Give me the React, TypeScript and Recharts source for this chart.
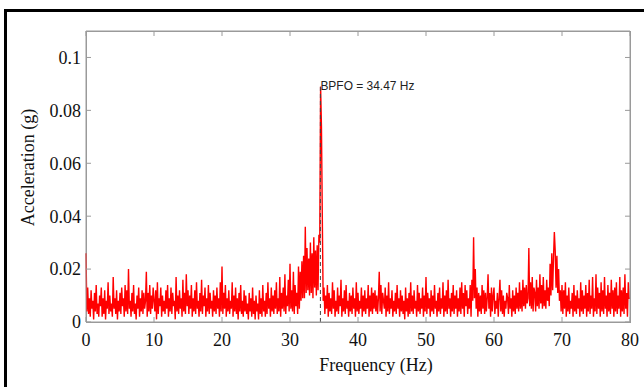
import { LineChart, Line, XAxis, YAxis, ReferenceLine } from 'recharts';

// spectrum samples every 0.125 Hz, values in mg (0.001 g), one row = 1 Hz
const step = 0.125;

const accel0to10 = [
  26, 4, 13, 3, 9, 2, 12, 5,
  8, 1, 11, 4, 14, 3, 7, 2,
  10, 6, 13, 2, 9, 3, 12, 1,
  8, 5, 15, 3, 10, 4, 7, 2,
  17, 5, 9, 3, 12, 1, 8, 4,
  11, 3, 13, 6, 9, 2, 14, 4,
  12, 3, 20, 5, 8, 2, 11, 4,
  14, 3, 7, 1, 10, 5, 13, 2,
  9, 4, 12, 3, 11, 5, 8, 19,
  2, 11, 4, 14, 3, 10, 5, 13,
];

const accel10to20 = [
  8, 4, 12, 1, 15, 3, 9, 6,
  13, 2, 10, 4, 8, 3, 12, 5,
  14, 2, 9, 4, 13, 3, 11, 6,
  8, 1, 17, 4, 10, 3, 12, 5,
  9, 2, 16, 4, 11, 3, 18, 6,
  12, 3, 10, 5, 14, 2, 9, 4,
  12, 3, 15, 5, 8, 2, 11, 4,
  16, 3, 10, 6, 13, 2, 9, 4,
  14, 3, 11, 5, 8, 2, 12, 4,
  10, 3, 13, 5, 9, 2, 15, 4,
];

const accel20to30 = [
  21, 3, 11, 5, 14, 2, 9, 4,
  12, 3, 8, 5, 15, 2, 10, 4,
  13, 3, 9, 1, 11, 4, 14, 3,
  8, 2, 12, 4, 10, 3, 7, 1,
  11, 4, 9, 2, 13, 3, 8, 1,
  10, 4, 7, 1, 12, 3, 9, 2,
  14, 4, 8, 2, 11, 3, 15, 5,
  9, 2, 13, 4, 10, 3, 12, 5,
  15, 3, 9, 4, 17, 2, 11, 5,
  13, 4, 18, 3, 10, 6, 16, 4,
];

const accel30to40 = [
  22, 5, 12, 4, 19, 3, 14, 6,
  11, 3, 21, 5, 19, 8, 23, 9,
  25, 9, 36, 11, 28, 12, 24, 10,
  30, 11, 26, 9, 32, 13, 27, 10,
  29, 12, 33, 30, 89, 74, 40, 8,
  13, 3, 10, 5, 14, 2, 11, 4,
  9, 3, 15, 5, 12, 2, 8, 4,
  13, 3, 10, 6, 16, 2, 9, 4,
  12, 3, 14, 5, 8, 2, 11, 4,
  10, 3, 13, 5, 9, 2, 15, 4,
];

const accel40to50 = [
  11, 3, 8, 5, 13, 2, 10, 4,
  12, 3, 9, 5, 14, 2, 10, 4,
  13, 3, 11, 5, 12, 4, 10, 3,
  9, 19, 4, 14, 3, 11, 8, 5,
  13, 2, 10, 4, 15, 3, 9, 5,
  12, 2, 8, 4, 11, 3, 14, 5,
  9, 2, 12, 4, 10, 3, 8, 1,
  13, 4, 9, 2, 11, 3, 15, 4,
  10, 3, 12, 5, 8, 2, 14, 4,
  11, 3, 9, 5, 13, 2, 10, 4,
];

const accel50to60 = [
  17, 3, 11, 5, 9, 2, 12, 4,
  10, 3, 14, 5, 8, 2, 11, 4,
  13, 3, 9, 5, 15, 2, 10, 4,
  12, 3, 16, 5, 9, 2, 11, 4,
  14, 3, 10, 5, 12, 2, 9, 4,
  13, 3, 15, 5, 11, 2, 14, 6,
  12, 3, 9, 5, 14, 2, 16, 8,
  32, 9, 20, 5, 13, 2, 11, 4,
  10, 3, 14, 5, 12, 3, 11, 4,
  9, 18, 5, 11, 2, 13, 4, 10,
];

const accel60to70 = [
  13, 3, 8, 5, 11, 2, 9, 16,
  4, 12, 3, 10, 2, 8, 5, 11,
  9, 3, 14, 5, 9, 2, 12, 4,
  10, 3, 13, 5, 11, 4, 15, 5,
  12, 4, 16, 6, 13, 5, 14, 7,
  9, 28, 6, 15, 5, 17, 4, 13,
  11, 4, 16, 6, 13, 5, 18, 7,
  14, 5, 17, 6, 12, 5, 16, 8,
  13, 6, 22, 10, 26, 12, 24, 34,
  27, 13, 25, 11, 20, 8, 12, 4,
];

const accel70to80 = [
  14, 3, 12, 5, 15, 2, 10, 4,
  13, 3, 8, 5, 11, 2, 14, 4,
  10, 3, 12, 5, 9, 2, 15, 4,
  12, 3, 10, 5, 14, 2, 11, 4,
  16, 3, 10, 5, 17, 2, 9, 4,
  18, 3, 13, 5, 11, 2, 15, 4,
  12, 3, 17, 5, 10, 2, 14, 4,
  11, 3, 16, 5, 12, 2, 13, 4,
  15, 3, 10, 5, 17, 2, 12, 4,
  13, 3, 18, 5, 11, 2, 15, 9,
];

const accelEnd = [9];

const freqTicks = [0, 10, 20, 30, 40, 50, 60, 70, 80];
const accelTicks = [0, 0.02, 0.04, 0.06, 0.08, 0.1];
const freqDomain = [0, 80];
const accelDomain = [0, 0.11];

const bpfo = 34.47;
const bpfoPeak = 0.089;
const bpfoText = 'BPFO = 34.47 Hz';

const accelMg = [
  ...accel0to10,
  ...accel10to20,
  ...accel20to30,
  ...accel30to40,
  ...accel40to50,
  ...accel50to60,
  ...accel60to70,
  ...accel70to80,
  ...accelEnd,
];

const data = accelMg.map((v, i) => ({ f: i * step, a: v / 1000 }));

const serif = "'Liberation Serif', 'Times New Roman', serif";
const axisGrey = '#9a9a9a';
const tickStyle = { fill: '#111', fontSize: 18, fontFamily: serif };
const noLabel = () => '';

export default function App() {
  return (
    <div
      style={{
        position: 'fixed',
        left: 0,
        top: 0,
        width: 644,
        height: 387,
        overflow: 'hidden',
        background: '#fff',
      }}
    >
      <div
        style={{
          position: 'absolute',
          left: 4,
          top: 9,
          width: 700,
          height: 450,
          borderLeft: '3px solid #000',
          borderTop: '3px solid #000',
        }}
      />
      {/* plot frame */}
      <div
        style={{
          position: 'absolute',
          left: 86,
          top: 31,
          width: 545,
          height: 292,
          boxSizing: 'border-box',
          border: `1px solid ${axisGrey}`,
          pointerEvents: 'none',
        }}
      />
      <div style={{ position: 'absolute', left: 0, top: 0 }}>
        <LineChart
          width={644}
          height={387}
          data={data}
          margin={{ top: 26, right: 9, bottom: 35, left: 0 }}
        >
          <XAxis
            dataKey="f"
            type="number"
            domain={freqDomain}
            ticks={freqTicks}
            interval={0}
            height={30}
            stroke={axisGrey}
            tickSize={-5}
            tickMargin={16}
            tick={tickStyle}
            label={(props: any) => {
              const vb = props.viewBox;
              return (
                <text
                  x={vb.x + vb.width / 2 + 18}
                  y={vb.y + 49}
                  textAnchor="middle"
                  fontSize={18}
                  fontFamily={serif}
                  fill="#111"
                >
                  Frequency (Hz)
                </text>
              );
            }}
          />
          <XAxis
            xAxisId="top"
            orientation="top"
            dataKey="f"
            type="number"
            domain={freqDomain}
            ticks={freqTicks}
            interval={0}
            height={5}
            stroke={axisGrey}
            tickSize={-5}
            tick={tickStyle}
            tickFormatter={noLabel}
          />
          <YAxis
            type="number"
            domain={accelDomain}
            ticks={accelTicks}
            interval={0}
            width={86}
            stroke={axisGrey}
            tickSize={-5}
            tickMargin={10}
            tick={tickStyle}
            tickFormatter={(v: number) => String(v)}
            label={(props: any) => {
              const vb = props.viewBox;
              const cx = vb.x + 34;
              const cy = vb.y + vb.height / 2 - 9;
              return (
                <text
                  transform={`translate(${cx},${cy}) rotate(-90)`}
                  textAnchor="middle"
                  fontSize={18}
                  fontFamily={serif}
                  fill="#111"
                >
                  Acceleration (g)
                </text>
              );
            }}
          />
          <YAxis
            yAxisId="right"
            orientation="right"
            type="number"
            domain={accelDomain}
            ticks={accelTicks}
            interval={0}
            width={5}
            stroke={axisGrey}
            tickSize={-5}
            tick={tickStyle}
            tickFormatter={noLabel}
          />
          <Line
            type="linear"
            dataKey="a"
            stroke="#ff0000"
            strokeWidth={1.4}
            dot={false}
            activeDot={false}
            isAnimationActive={false}
          />
          <Line
            xAxisId="top"
            yAxisId="right"
            type="linear"
            dataKey="a"
            stroke="none"
            dot={false}
            activeDot={false}
            isAnimationActive={false}
          />
          <ReferenceLine
            segment={[
              { x: bpfo, y: 0 },
              { x: bpfo, y: bpfoPeak },
            ]}
            stroke="#444"
            strokeDasharray="4 3"
            label={(props: any) => {
              const vb = props.viewBox;
              return (
                <text
                  x={vb.x}
                  y={vb.y + 3}
                  fontSize={13.5}
                  textLength={94}
                  lengthAdjust="spacingAndGlyphs"
                  fontFamily="'Liberation Sans', Arial, sans-serif"
                  fill="#222"
                >
                  {bpfoText}
                </text>
              );
            }}
          />
        </LineChart>
      </div>
    </div>
  );
}
